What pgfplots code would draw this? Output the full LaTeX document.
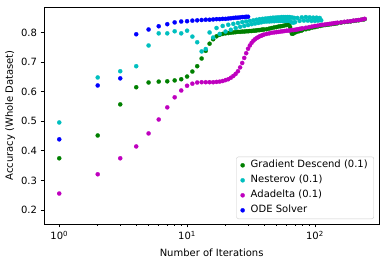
\documentclass[border=0pt]{standalone}
\usepackage{fontspec}
\setmainfont{DejaVu Sans}
\usepackage{pgfplots}
\pgfplotsset{compat=1.18}
\definecolor{mplg}{rgb}{0,0.5,0}
\definecolor{mplc}{rgb}{0,0.75,0.75}
\definecolor{mplm}{rgb}{0.75,0,0.75}
\definecolor{mplb}{rgb}{0,0,1}
\begin{document}
\fontsize{10}{12}\selectfont
\begin{tikzpicture}
\begin{semilogxaxis}[
  scale only axis,
  width=335.3pt, height=217pt,
  xmin=0.76, xmax=319,
  ymin=0.153, ymax=0.886,
  xtick={1,10,100},
  xticklabels={10\textsuperscript{0},10\textsuperscript{1},10\textsuperscript{2}},
  ytick={0.2,0.3,0.4,0.5,0.6,0.7,0.8},
  yticklabels={0.2,0.3,0.4,0.5,0.6,0.7,0.8},
  tick align=outside,
  xtick pos=bottom, ytick pos=left,
  major tick length=3.5pt, minor tick length=2pt,
  every tick/.style={black, line width=0.8pt},
  minor tick style={line width=0.6pt},
  axis line style={line width=0.8pt},
  xlabel={Number of Iterations},
  ylabel={Accuracy (Whole Dataset)},
  every axis x label/.style={at={(axis description cs:0.5,0)}, yshift=-29pt, anchor=center},
  every axis y label/.style={at={(axis description cs:0,0.5)}, xshift=-34pt, rotate=90, anchor=center},
  only marks,
  legend cell align=left,
  legend image code/.code={\draw[mark repeat=2,mark phase=2,#1] plot coordinates {(0pt,0pt)(6pt,0pt)(12pt,0pt)};},
  legend style={at={(axis description cs:0.984,0.023)}, anchor=south east,
    draw=black!20, rounded corners=2pt, inner xsep=4pt, inner ysep=1pt,
    column sep=4pt,
    nodes={inner ysep=2.5pt, text height=7.5pt, text depth=2.5pt},
    font=\fontsize{10}{12}\selectfont},
  every axis plot/.append style={mark=*, mark size=2.1pt, mark options={line width=0.2pt}},
]
\addplot[mplg] coordinates {
(1,0.375)(2,0.452)(3,0.557)(4,0.615)(5,0.631)(6,0.634)(7,0.635)(8,0.638)(9,0.642)(10,0.651)
(11,0.668)(12,0.686)(13,0.712)(14,0.738)(15,0.762)(16,0.777)(17,0.787)(18,0.792)(19,0.795)(20,0.797)
(21,0.798)(22,0.799)(23,0.800)(24,0.801)(25,0.802)(26,0.802)(27,0.803)(28,0.803)(29,0.804)(30,0.804)
(31,0.805)(32,0.805)(33,0.806)(34,0.806)(35,0.807)(36,0.808)(37,0.808)(38,0.809)(39,0.810)(40,0.810)
(42,0.811)(44,0.813)(46,0.815)(48,0.817)(50,0.818)(52,0.820)(54,0.821)(56,0.822)(58,0.824)(60,0.825)
(62,0.827)(63,0.828)(64,0.818)(65,0.805)(66,0.796)(67,0.796)(68,0.797)(70,0.800)(72,0.802)(75,0.804)
(78,0.806)(80,0.808)(85,0.811)(90,0.813)(95,0.816)(100,0.818)(105,0.820)(110,0.822)(115,0.824)(120,0.825)
(125,0.826)(130,0.827)(135,0.828)(140,0.829)(145,0.830)(150,0.831)(160,0.833)(170,0.835)(180,0.836)(190,0.837)
(200,0.839)(210,0.840)(220,0.841)(230,0.843)(240,0.844)(245,0.845)
};
\addlegendentry{Gradient Descend (0.1)}
\addplot[mplc] coordinates {
(1,0.496)(2,0.648)(3,0.669)(4,0.686)(5,0.756)(6,0.797)(7,0.797)(8,0.804)(9,0.797)(10,0.806)
(11,0.786)(12,0.767)(13,0.736)(14,0.744)(15,0.800)(16,0.783)(17,0.815)(18,0.795)(19,0.822)(20,0.803)
(21,0.826)(22,0.809)(23,0.829)(24,0.815)(25,0.832)(26,0.819)(27,0.835)(28,0.822)(29,0.837)(30,0.825)
(31,0.839)(32,0.828)(33,0.841)(34,0.830)(35,0.843)(36,0.832)(37,0.845)(38,0.834)(39,0.846)(40,0.836)
(41,0.847)(42,0.837)(43,0.848)(44,0.837)(45,0.849)(46,0.838)(47,0.850)(48,0.838)(49,0.850)(50,0.839)
(51,0.851)(52,0.839)(53,0.851)(54,0.839)(55,0.852)(56,0.839)(57,0.852)(58,0.839)(59,0.852)(60,0.839)
(61,0.852)(62,0.840)(63,0.852)(64,0.838)(65,0.851)(66,0.834)(67,0.850)(68,0.833)(69,0.849)(70,0.835)
(73,0.849)(76,0.839)(79,0.851)(82,0.840)(85,0.852)(88,0.840)(91,0.851)(94,0.839)(97,0.850)(100,0.839)
(103,0.850)(106,0.840)(109,0.849)(112,0.841)
};
\addlegendentry{Nesterov (0.1)}
\addplot[mplm] coordinates {
(1,0.256)(2,0.321)(3,0.375)(4,0.415)(5,0.459)(6,0.506)(7,0.547)(8,0.581)(9,0.604)(10,0.620)
(11,0.627)(12,0.631)(13,0.632)(14,0.632)(15,0.632)(16,0.632)(17,0.633)(18,0.634)(19,0.636)(20,0.639)
(21,0.642)(22,0.647)(23,0.653)(24,0.660)(25,0.669)(26,0.682)(27,0.697)(28,0.714)(29,0.730)(30,0.745)
(31,0.756)(32,0.765)(33,0.772)(34,0.777)(35,0.781)(36,0.784)(37,0.787)(38,0.789)(39,0.791)(40,0.793)
(42,0.795)(44,0.797)(46,0.799)(48,0.800)(50,0.801)(52,0.802)(54,0.803)(56,0.804)(58,0.805)(60,0.806)
(62,0.806)(64,0.807)(66,0.808)(68,0.808)(70,0.809)(72,0.810)(74,0.811)(76,0.812)(78,0.813)(80,0.814)
(85,0.816)(90,0.818)(95,0.820)(100,0.822)(105,0.823)(110,0.825)(115,0.826)(120,0.827)(125,0.828)(130,0.829)
(135,0.830)(140,0.831)(145,0.832)(150,0.833)(160,0.834)(170,0.836)(180,0.837)(190,0.838)(200,0.840)(210,0.841)
(220,0.842)(230,0.843)(240,0.845)(245,0.846)
};
\addlegendentry{Adadelta (0.1)}
\addplot[mplb] coordinates {
(1,0.439)(2,0.621)(3,0.645)(4,0.794)(5,0.810)(6,0.821)(7,0.828)(8,0.834)(9,0.837)(10,0.838)
(11,0.840)(12,0.841)(13,0.842)(14,0.843)(15,0.843)(16,0.844)(17,0.845)(18,0.845)(19,0.846)(20,0.846)
(21,0.847)(22,0.848)(23,0.849)(24,0.850)(25,0.850)(26,0.851)(27,0.852)(28,0.852)(29,0.853)(30,0.853)
};
\addlegendentry{ODE Solver}
\end{semilogxaxis}
\pgfresetboundingbox
\path[use as bounding box] ([shift={(-44pt,-42pt)}]current axis.south west) rectangle ([shift={(6.7pt,7pt)}]current axis.north east);
\end{tikzpicture}
\end{document}
